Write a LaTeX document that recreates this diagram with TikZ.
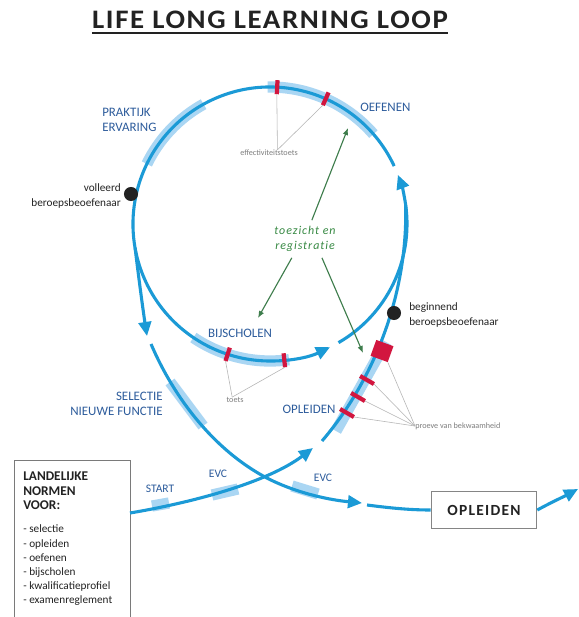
\documentclass[tikz,border=0pt]{standalone}
\usepackage{fontspec}
\setmainfont{Carlito}
\newfontfamily\titlefont[FakeStretch=1.08, LetterSpace=6, Ligatures=NoCommon]{Carlito}
\newfontfamily\spacedfont[LetterSpace=8, Ligatures=NoCommon]{Carlito}
\newcommand\normhead[1]{{\fontsize{9.5}{10}\selectfont\bfseries #1}}
\usetikzlibrary{arrows.meta, positioning, calc}

\begin{document}
\begin{tikzpicture}[
    x=0.025cm, y=0.025cm,
    every node/.style={font=\fontsize{8}{10}\selectfont, inner sep=0pt},
]

% ---------------------------------------------------------------- colours
\definecolor{flow}{HTML}{1B9AD6}    % the loop itself
\definecolor{band}{HTML}{AAD6F3}    % stretches of the loop
\definecolor{stage}{HTML}{2D5C9C}
\definecolor{check}{HTML}{D2163F}   % toetsen
\definecolor{watch}{HTML}{3E7D4C}
\definecolor{note}{HTML}{B4B4B4}
\definecolor{ink}{HTML}{222222}

\tikzset{
    flowline/.style={line width=2.2pt, flow},
    flowarrow/.style={flowline, -{Triangle[length=10pt, width=9pt]}},
    stageband/.style={line width=8pt, band},
    redmark/.style={line width=3pt, check},
    pointer/.style={note, line width=0.4pt},
    watcharrow/.style={watch, line width=0.8pt, -{Latex[length=5pt, width=4pt]}},
    stagelabel/.style={text=stage, font=\fontsize{9.2}{10.5}\selectfont},
    smallnote/.style={text=note!70!black, font=\fontsize{5.8}{7}\selectfont},
    personlabel/.style={text=ink, font=\fontsize{8}{10.5}\selectfont},
    milestone/.style={circle, fill=ink, minimum size=10pt},
}

% one unit = one pixel of the 578 x 617 sheet, y runs downwards as -y
\path[use as bounding box, fill=white] (0,0) rectangle (578,-617);

% ================================================================
% The loop: circle round c, R = 137
%   travelled anticlockwise, comes in at 8 deg, leaves at 190 deg
% ================================================================
\coordinate (c) at (270,-224);

% ---------------------------------------------------------------- title
\node[font=\titlefont\bfseries\fontsize{19}{21}\selectfont, text=ink]
    (title) at (270,-20) {LIFE LONG LEARNING LOOP};
\draw[ink, line width=1.4pt]
    ([yshift=-3pt]title.south west) -- ([yshift=-3pt]title.south east);

% ---------------------------------------------------------------- bands
\draw[stageband] ($(c)+(119:137)$) arc (119:154:137);   % praktijk
\draw[stageband] ($(c)+(41:137)$) arc (41:91:137);      % oefenen
\draw[stageband] ($(c)+(236:137)$) arc (236:278:137);   % bijscholen
\draw[stageband] (170,-382) -- (203,-426);              % selectie
\draw[stageband] (386,-342) -- (336,-431);              % opleiden
\draw[stageband] (152,-506) -- (169,-503);              % start
\draw[stageband] (212,-495) -- (238,-489);              % evc
\draw[stageband] (292,-486) -- (318,-494);              % evc

% ---------------------------------------------------------------- norms box
\draw[ink!60, line width=0.6pt] (14,-617) -- (14,-460) -- (130,-460) -- (130,-617);
\coordinate (start) at (130,-513);
\node[anchor=north west, align=left, text=ink] (norms) at (23,-472)
    {\normhead{LANDELIJKE}\\\normhead{NORMEN}\\\normhead{VOOR:}\\[7pt]
     - selectie\\ - opleiden\\ - oefenen\\
     - bijscholen\\ - kwalificatieprofiel\\ - examenreglement};

\node[draw=ink!55, line width=0.8pt, minimum width=75pt, minimum height=26pt,
      font=\spacedfont\bfseries\fontsize{11}{12}\selectfont, text=ink]
    (opbox) at (484,-510) {OPLEIDEN};

% ---------------------------------------------------------------- lines
% round the circle, from the top right to the bottom
\draw[flowarrow] ($(c)+(25:137)$) arc (25:296:137);
\draw[flowline] ($(c)+(300:137)$) arc (300:368:137);

% from START up into the loop
\draw[flowarrow] (start) .. controls (195,-502) and (268,-482) .. (313,-448);
\draw[flowarrow] (322,-441) .. controls (370,-385) and (408,-300) .. ($(c)+(8:137)$)
    arc (8:21:137);

% out of the loop, down to OPLEIDEN
\draw[flowarrow] ($(c)+(190:137)$) .. controls (139,-280) and (143,-310) .. (147,-336);
\draw[flowarrow] (151,-344) .. controls (175,-400) and (215,-450) .. (265,-477)
    .. controls (295,-493) and (330,-500) .. (362,-503);
\draw[flowline] (367,-505) .. controls (390,-508) and (410,-510) .. (opbox.west);
\draw[flowarrow] (opbox.east) .. controls (550,-503) and (565,-496) .. (578,-489);

% ---------------------------------------------------------------- toetsen
\foreach \a/\n in {87/e1, 66/e2, 252/t1, 276/t2} {
    \coordinate (\n i) at ($(c)+(\a:130)$);
    \coordinate (\n o) at ($(c)+(\a:144)$);
    \draw[redmark] (\n i) -- (\n o);
}
\foreach \x/\y/\n in {367/380/p1, 358/397/p2, 347/413/p3} {
    \coordinate (\n a) at ($(\x,-\y)+(150:8)$);
    \coordinate (\n b) at ($(\x,-\y)+(-30:8)$);
    \draw[redmark] (\n a) -- (\n b);
}
\node[fill=check, minimum width=13pt, minimum height=12pt, rotate=-20]
    (p0) at (382,-351) {};

% ---------------------------------------------------------------- milestones
\node[milestone] (done) at (131,-194) {};
\node[milestone] (begin) at (394,-313) {};

% ---------------------------------------------------------------- labels
\node[stagelabel, anchor=west, align=left] (prak) at (102,-120) {PRAKTIJK\\ERVARING};
\node[stagelabel, anchor=west] (oef) at (360,-107) {OEFENEN};
\node[stagelabel] (bijs) at (240,-333) {BIJSCHOLEN};
\node[stagelabel, anchor=east, align=right] (sel) at (163,-404) {SELECTIE\\NIEUWE FUNCTIE};
\node[stagelabel] (opl) at (309,-409) {OPLEIDEN};
\node[stagelabel, font=\fontsize{8.2}{9}\selectfont] (startlbl) at (160,-489) {START};
\node[stagelabel, font=\fontsize{8.2}{9}\selectfont] (evc1) at (218,-474) {EVC};
\node[stagelabel, font=\fontsize{8.2}{9}\selectfont] (evc2) at (323,-478) {EVC};

\node[personlabel, anchor=east, align=right] (donelbl) at (121,-196)
    {volleerd\\beroepsbeoefenaar};
\node[personlabel, anchor=west, align=left] (beginlbl) at (409,-315)
    {beginnend\\beroepsbeoefenaar};

\node[smallnote] (eff) at (269,-153) {effectiviteitstoets};
\node[smallnote] (toets) at (235,-400) {toets};
\node[smallnote, anchor=west] (proeve) at (415,-426) {proeve van bekwaamheid};

\draw[pointer] ([xshift=6pt]eff.north) -- (e1i);
\draw[pointer] ([xshift=6pt]eff.north) -- (e2i);
\draw[pointer] ([xshift=-2pt]toets.north) -- (t1o);
\draw[pointer] ([xshift=-2pt]toets.north) -- (t2o);
\foreach \n in {p0.south east, p1b, p2b, p3b}
    \draw[pointer] (proeve.west) -- (\n);

% ---------------------------------------------------------------- toezicht
\node[inner sep=4pt, align=center, text=watch!90!green,
      font=\spacedfont\itshape\fontsize{8.5}{11}\selectfont]
    (toez) at (305,-239) {toezicht en\\registratie};
\coordinate (w1) at (348,-128);
\coordinate (w2) at (258,-318);
\coordinate (w3) at (363,-353);
\draw[watcharrow] (toez.70) -- (w1);
\draw[watcharrow] (toez.235) -- (w2);
\draw[watcharrow] (toez.-48) -- (w3);

\end{tikzpicture}
\end{document}
